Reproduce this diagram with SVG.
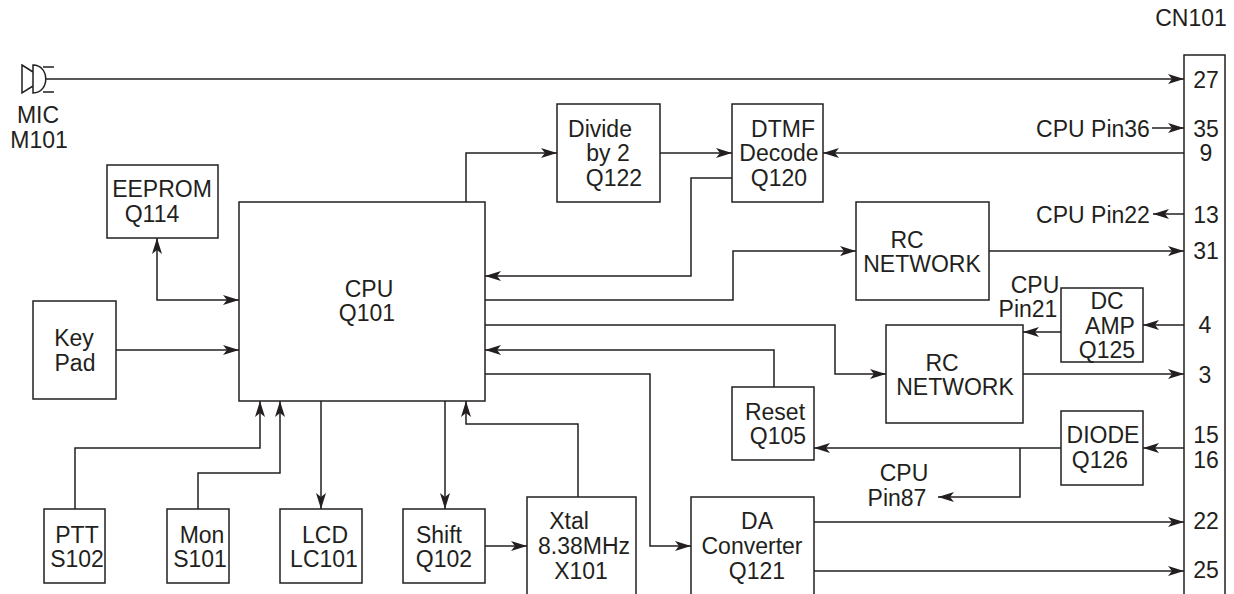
<svg xmlns="http://www.w3.org/2000/svg" width="1234" height="594" viewBox="0 0 1234 594">
<style>
text{font-family:"Liberation Sans",Arial,sans-serif;font-size:23px;fill:#231f20;text-anchor:middle}
rect{fill:#fff;stroke:#231f20;stroke-width:1.5}
path,line{fill:none;stroke:#231f20;stroke-width:1.5}
.a{marker-end:url(#ah)}
.b{marker-start:url(#as);marker-end:url(#ah)}
</style>
<defs>
<marker id="ah" markerUnits="userSpaceOnUse" markerWidth="17" markerHeight="12" refX="16" refY="6" orient="auto"><path d="M0 1L16 6L0 11L4 6Z" style="fill:#231f20;stroke:none"/></marker>
<marker id="as" markerUnits="userSpaceOnUse" markerWidth="17" markerHeight="12" refX="1" refY="6" orient="auto"><path d="M17 1L1 6L17 11L13 6Z" style="fill:#231f20;stroke:none"/></marker>
</defs>
<rect width="1234" height="594" style="fill:#fff;stroke:none"/>
<g id="connectors">
<line x1="45" y1="79" x2="1184" y2="79" class="a"/>
<line x1="1152" y1="128" x2="1184" y2="128" class="a"/>
<line x1="1184" y1="153" x2="823" y2="153" class="a"/>
<line x1="1184" y1="214" x2="1153" y2="214" class="a"/>
<line x1="989" y1="251" x2="1184" y2="251" class="a"/>
<line x1="1184" y1="325" x2="1143" y2="325" class="a"/>
<line x1="1061" y1="332" x2="1023" y2="332" class="a"/>
<line x1="1023" y1="374" x2="1184" y2="374" class="a"/>
<line x1="1184" y1="448" x2="1143" y2="448" class="a"/>
<line x1="1061" y1="448" x2="814" y2="448" class="a"/>
<path d="M1020 448V497H938" class="a"/>
<line x1="814" y1="522" x2="1184" y2="522" class="a"/>
<line x1="814" y1="571" x2="1184" y2="571" class="a"/>
<path d="M466 202V153H557" class="a"/>
<line x1="660" y1="153" x2="732" y2="153" class="a"/>
<path d="M732 178H691V276H485" class="a"/>
<path d="M485 300H733V251H856" class="a"/>
<path d="M485 325H835V374H886" class="a"/>
<path d="M774 387V350H485" class="a"/>
<path d="M485 374H650V546H691" class="a"/>
<path d="M157 238V300H239" class="b"/>
<line x1="116" y1="350" x2="239" y2="350" class="a"/>
<path d="M75 509V448H260V401" class="a"/>
<path d="M198 509V473H280V401" class="a"/>
<line x1="321" y1="401" x2="321" y2="509" class="a"/>
<line x1="445" y1="401" x2="445" y2="509" class="a"/>
<path d="M578 497V424H466V401" class="a"/>
<line x1="485" y1="546" x2="527" y2="546" class="a"/>
</g>
<g id="mic"><path d="M22 65L33 72V86L22 93Z M33 65C50 65 50 93 33 93Z M43 67H54 M43 92H54"/><text x="38" y="123">MIC</text><text x="39" y="148">M101</text></g>
<g id="eeprom"><rect x="107" y="165" width="111" height="73"/><text x="162" y="197">EEPROM</text><text x="152" y="222">Q114</text></g>
<g id="cpu"><rect x="239" y="202" width="246" height="199"/><text x="369" y="297">CPU</text><text x="367" y="321">Q101</text></g>
<g id="keypad"><rect x="33" y="301" width="83" height="98"/><text x="74" y="346">Key</text><text x="75" y="371">Pad</text></g>
<g id="ptt"><rect x="44" y="509" width="61" height="74"/><text x="77" y="543">PTT</text><text x="77" y="567">S102</text></g>
<g id="mon"><rect x="167" y="509" width="62" height="74"/><text x="202" y="543">Mon</text><text x="200" y="567">S101</text></g>
<g id="lcd"><rect x="280" y="509" width="82" height="74"/><text x="325" y="543">LCD</text><text x="324" y="567">LC101</text></g>
<g id="shift"><rect x="403" y="509" width="82" height="74"/><text x="439" y="543">Shift</text><text x="444" y="567">Q102</text></g>
<g id="xtal"><rect x="527" y="497" width="109" height="110"/><text x="569" y="529">Xtal</text><text x="584" y="554">8.38MHz</text><text x="581" y="579">X101</text></g>
<g id="da"><rect x="691" y="497" width="123" height="110"/><text x="757" y="529">DA</text><text x="752" y="554">Converter</text><text x="757" y="579">Q121</text></g>
<g id="reset"><rect x="732" y="387" width="82" height="73"/><text x="775" y="420">Reset</text><text x="778" y="444">Q105</text></g>
<g id="diode"><rect x="1061" y="411" width="82" height="74"/><text x="1103" y="443">DIODE</text><text x="1100" y="468">Q126</text></g>
<g id="rc2"><rect x="886" y="325" width="137" height="98"/><text x="942" y="371">RC</text><text x="955" y="395">NETWORK</text></g>
<g id="rc1"><rect x="856" y="202" width="133" height="98"/><text x="907" y="248">RC</text><text x="922" y="272">NETWORK</text></g>
<g id="dcamp"><rect x="1061" y="288" width="82" height="74"/><text x="1107" y="309">DC</text><text x="1110" y="334">AMP</text><text x="1107" y="358">Q125</text></g>
<g id="divide"><rect x="557" y="104" width="103" height="98"/><text x="600" y="137">Divide</text><text x="608" y="161">by 2</text><text x="614" y="186">Q122</text></g>
<g id="dtmf"><rect x="732" y="104" width="91" height="98"/><text x="783" y="137">DTMF</text><text x="779" y="161">Decode</text><text x="779" y="186">Q120</text></g>
<text x="1035" y="293">CPU</text><text x="1028" y="317">Pin21</text>
<text x="1093" y="137">CPU Pin36</text>
<text x="1093" y="223">CPU Pin22</text>
<text x="904" y="481">CPU</text>
<text x="897" y="506">Pin87</text>
<text x="1191" y="26">CN101</text>
<g id="cn101"><rect x="1184" y="55" width="41" height="552"/>
<text x="1206" y="88">27</text><text x="1206" y="137">35</text><text x="1206" y="161">9</text><text x="1206" y="223">13</text><text x="1206" y="259">31</text><text x="1205" y="333">4</text><text x="1205" y="383">3</text><text x="1206" y="443">15</text><text x="1206" y="468">16</text><text x="1206" y="529">22</text><text x="1206" y="578">25</text></g>
</svg>
